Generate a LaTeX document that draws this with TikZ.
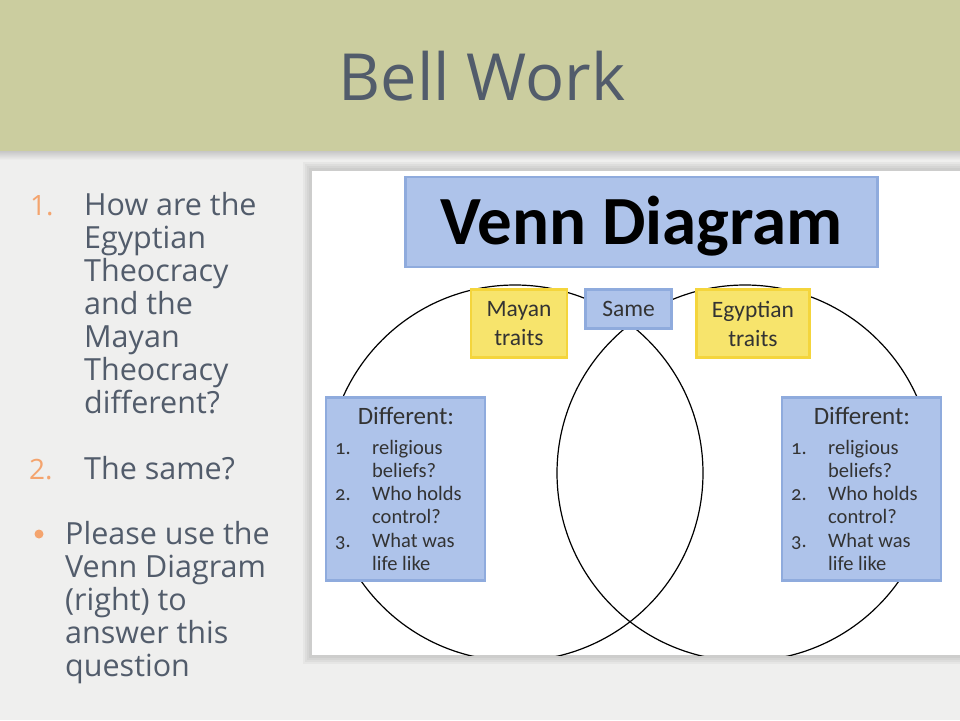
\documentclass[tikz,border=0pt]{standalone}
\usepackage{fontspec}
\setmainfont{Open Sans}
\newfontfamily\boxfont{Carlito}[Numbers=OldStyle]
\usetikzlibrary{positioning}

\definecolor{headbg}{HTML}{CBCD9F}
\definecolor{slidebg}{HTML}{EFEFEE}
\definecolor{inkgrey}{HTML}{525C6B}
\definecolor{accent}{HTML}{F4A46E}
\definecolor{boxblue}{HTML}{AEC3EA}
\definecolor{edgeblue}{HTML}{8FABDD}
\definecolor{boxyellow}{HTML}{F7E46C}
\definecolor{edgeyellow}{HTML}{F4D53C}

\tikzset{
  bluebox/.style={draw=edgeblue,fill=boxblue,line width=2.5pt,rectangle,inner sep=0pt},
  yellowbox/.style={draw=edgeyellow,fill=boxyellow,line width=2.5pt,rectangle,inner sep=0pt},
  tag/.style={font=\boxfont\fontsize{23.5}{29}\selectfont,text=black!80,align=center},
  item/.style={font=\boxfont\fontsize{20.5}{23}\selectfont,text=black!80,inner sep=0pt},
  qtext/.style={font=\fontsize{30.5}{33}\selectfont,text=inkgrey,inner sep=0pt},
  qnum/.style={font=\fontsize{28}{33}\selectfont,text=accent,inner sep=0pt}
}

\begin{document}
\begin{tikzpicture}[x=1pt,y=-1pt]
\useasboundingbox (0,0) rectangle (960,720);
\fill[slidebg] (0,0) rectangle (960,720);
\fill[headbg] (0,0) rectangle (960,151);
\shade[top color=black!22,bottom color=slidebg] (0,151) rectangle (960,160);
\node [font=\fontsize{65}{70}\selectfont,text=inkgrey,anchor=base] (title) at (482,100) {Bell Work};

% questions on the left
\node [qnum,anchor=base west] (n1) at (30,215) {1.};
\foreach \line [count=\k] in {How are the,Egyptian,Theocracy,and the,Mayan,Theocracy,different?}
  \node [qtext,anchor=base west] (qa\k) at (84,182+33*\k) {\line};
\node [qnum,anchor=base west] (n2) at (29,479) {2.};
\node [qtext,anchor=base west] (qb) at (84,479) {The same?};
\fill[accent] (39,534) circle (4.5pt);
\foreach \line [count=\k] in {Please use the,Venn Diagram,(right) to,answer this,question}
  \node [qtext,anchor=base west] (qc\k) at (65,511+33*\k) {\line};

% picture panel with a soft shadow
\foreach \d in {9,7,5,3}
  \fill[black,opacity=0.035] (312-\d,171-\d) rectangle (960,655+\d);
\fill[white] (312,171) rectangle (960,655);
\begin{scope}
\clip (312,171) rectangle (960,655);
\draw[line width=1.2pt] (515,473) circle (188pt);
\draw[line width=1.2pt] (745,473) circle (188pt);
\end{scope}

\node [bluebox,minimum width=472pt,minimum height=90pt,font=\boxfont\bfseries\fontsize{69}{74}\selectfont,text height=44pt,text depth=0pt] (venn) at (641.5,222) {Venn Diagram};
\node [yellowbox,tag,minimum width=96pt,minimum height=68pt] (mayan) at (519,323.5) {Mayan\\traits};
\node [bluebox,tag,minimum width=86pt,minimum height=39pt] (same) at (628.5,309) {Same};
\node [yellowbox,tag,minimum width=113pt,minimum height=68pt] (egypt) at (753,323.5) {Egyptian\\traits};

\foreach \side/\bx in {L/325,R/781} {
  \node [bluebox,minimum width=159pt,minimum height=183pt] (diff\side) at (\bx+80.5,489) {};
  \node [item,font=\boxfont\fontsize{25}{28}\selectfont,anchor=base] (head\side) at (\bx+81,424) {Different:};
  \foreach \num/\first/\second [count=\k] in {1./religious/beliefs?,2./Who holds/control?,3./What was/life like} {
    \node [item,anchor=base west] (num\side\k) at (\bx+10,407.5+46.5*\k) {\num};
    \node [item,anchor=base west] (one\side\k) at (\bx+47,407.5+46.5*\k) {\first};
    \node [item,anchor=base west] (two\side\k) at (\bx+47,430.75+46.5*\k) {\second};
  }
}
\end{tikzpicture}
\end{document}
